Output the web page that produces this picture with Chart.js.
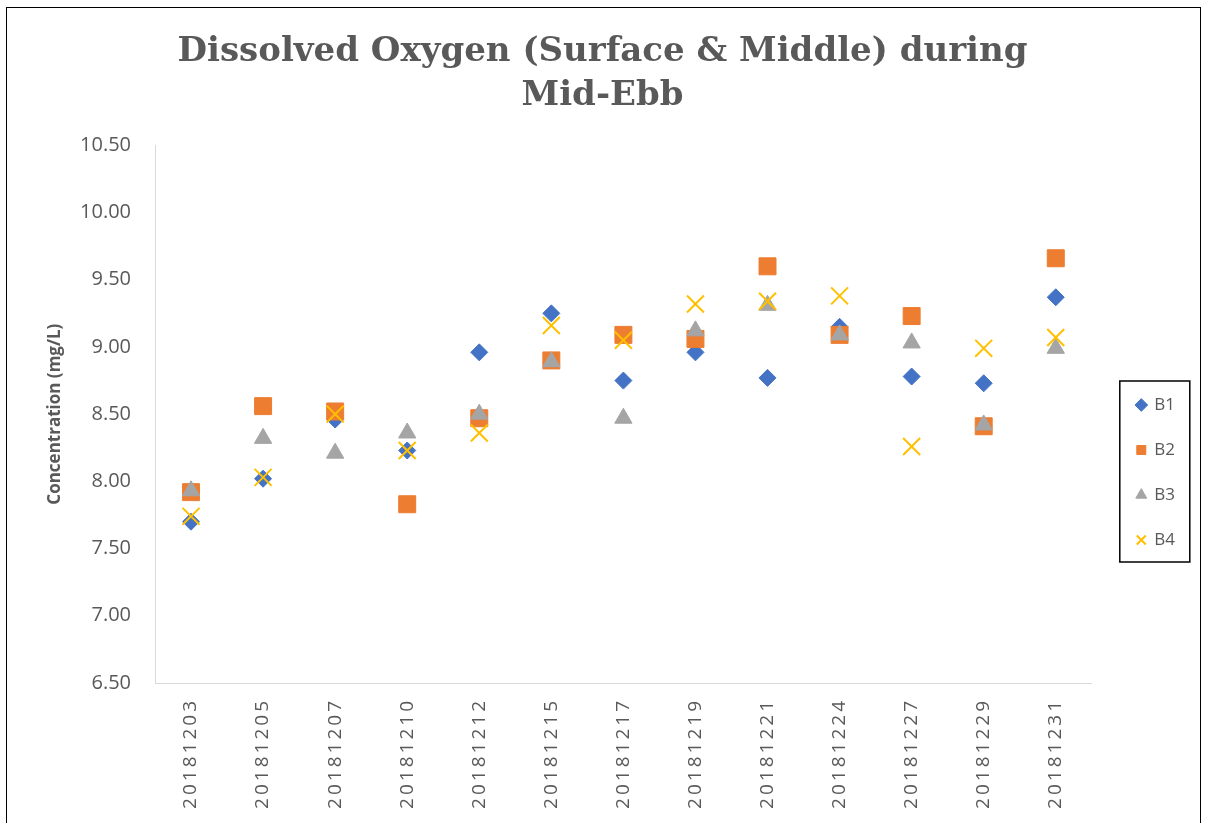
<!DOCTYPE html>
<html>
<head>
<meta charset="utf-8">
<script src="https://cdn.jsdelivr.net/npm/chart.js@4.4.0/dist/chart.umd.min.js"></script>
<style>
  body { margin: 0; background: #fff; overflow: hidden; }
  #wrap { position: relative; width: 1205px; height: 823px; overflow: hidden; }
  #chart { display: block; }
  #frame { position: absolute; left: 6px; top: 7px; width: 1195px; height: 840px;
           border: 1px solid #000; box-sizing: border-box; pointer-events: none; }
</style>
</head>
<body>
<div id="wrap">
  <canvas id="chart" width="1205" height="823"></canvas>
  <div id="frame"></div>
</div>
<script>
const dates = ['20181203', '20181205', '20181207', '20181210', '20181212', '20181215', '20181217',
               '20181219', '20181221', '20181224', '20181227', '20181229', '20181231'];

const b1 = [7.70, 8.02, 8.46, 8.23, 8.96, 9.25, 8.75, 8.96, 8.77, 9.15, 8.78, 8.73, 9.37];
const b2 = [7.92, 8.56, 8.52, 7.83, 8.47, 8.90, 9.09, 9.06, 9.60, 9.09, 9.23, 8.41, 9.66];
const b3 = [7.93, 8.32, 8.21, 8.36, 8.50, 8.89, 8.47, 9.12, 9.31, 9.09, 9.03, 8.42, 8.99];
const b4 = [7.74, 8.03, 8.50, 8.23, 8.36, 9.16, 9.05, 9.32, 9.34, 9.38, 8.26, 8.99, 9.07];

const titleLines = ['Dissolved Oxygen (Surface & Middle) during', 'Mid-Ebb'];
const yMin = 6.5, yMax = 10.5, yStep = 0.5;

const grey = '#595959';

// x labels in the original are spaced out, canvas only does that via letterSpacing
const tickSpacing = {
  id: 'tickSpacing',
  afterDatasetsDraw(chart) { chart.ctx.letterSpacing = '3px'; },
  afterDraw(chart) { chart.ctx.letterSpacing = '0px'; }
};

// black box round the legend
const legendFrame = {
  id: 'legendFrame',
  afterDraw(chart) {
    const boxes = chart.legend && chart.legend.legendHitBoxes;
    if (!boxes || !boxes.length) return;
    const first = boxes[0], last = boxes[boxes.length - 1];
    const top = first.top - 15.5;
    const bottom = last.top + last.height + 13.5;
    const ctx = chart.ctx;
    ctx.save();
    ctx.strokeStyle = '#000';
    ctx.lineWidth = 1.5;
    ctx.strokeRect(first.left - 17, top, 70, bottom - top);
    ctx.restore();
  }
};

function series(label, data, color, style, radius, order) {
  return {
    label: label,
    data: data,
    showLine: false,
    pointStyle: style,
    pointRadius: radius,
    pointHoverRadius: radius,
    backgroundColor: color,
    borderColor: color,
    borderWidth: style === 'crossRot' ? 2 : 1,
    order: order
  };
}

new Chart(document.getElementById('chart'), {
  type: 'line',
  data: {
    labels: dates,
    datasets: [
      series('B1', b1, '#4472C4', 'rectRot', 8.5, 4),
      series('B2', b2, '#ED7D31', 'rect', 12, 3),
      series('B3', b3, '#A5A5A5', 'triangle', 10, 2),
      series('B4', b4, '#FFC000', 'crossRot', 12, 1)
    ]
  },
  options: {
    responsive: false,
    animation: false,
    layout: { padding: { top: 0, left: 20, right: 20, bottom: 0 } },
    plugins: {
      title: {
        display: true,
        text: titleLines,
        color: grey,
        font: { family: 'DejaVu Serif', size: 34, weight: 'bold', lineHeight: 1.27 },
        padding: { top: 31, bottom: 28 }
      },
      legend: {
        position: 'right',
        // empty title only pushes the entries down to where the original has them
        title: { display: true, text: ' ', font: { size: 12, lineHeight: 1 }, padding: { top: 55, bottom: 55 } },
        labels: {
          usePointStyle: true,
          boxWidth: 9,
          boxHeight: 9,
          padding: 28,
          color: grey,
          font: { family: 'Open Sans', size: 17 },
          sort: (a, b) => a.datasetIndex - b.datasetIndex
        }
      },
      tooltip: { enabled: false }
    },
    scales: {
      x: {
        offset: true,
        grid: { display: false, drawTicks: false },
        border: { color: '#d9d9d9' },
        ticks: {
          autoSkip: false,
          minRotation: 90,
          maxRotation: 90,
          padding: 15,
          z: 1,
          color: grey,
          font: { family: 'Open Sans', size: 19 }
        },
        afterFit(scale) { scale.height = 140; }
      },
      y: {
        min: yMin,
        max: yMax,
        grid: { display: false, drawTicks: false },
        border: { color: '#d9d9d9' },
        ticks: {
          stepSize: yStep,
          padding: 24,
          color: grey,
          font: { family: 'Open Sans', size: 20 },
          callback: v => v.toFixed(2)
        },
        title: {
          display: true,
          text: 'Concentration (mg/L)',
          color: grey,
          font: { family: 'Open Sans', size: 17, weight: 'bold' },
          padding: { top: 25, bottom: 0 }
        },
        afterFit(scale) { scale.width = 135; }
      },
      gap: {
        type: 'linear',
        position: 'right',
        grid: { display: false, drawTicks: false },
        border: { display: false },
        ticks: { display: false },
        afterFit(scale) { scale.width = 17; }
      }
    }
  },
  plugins: [tickSpacing, legendFrame]
});
</script>
</body>
</html>
